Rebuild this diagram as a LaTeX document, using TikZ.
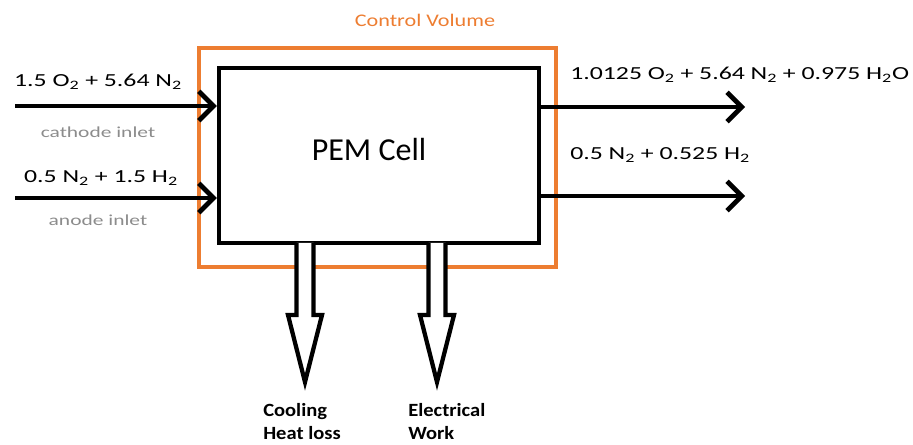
\documentclass[tikz,border=0pt]{standalone}
\usepackage{fontspec}
\setmainfont{Carlito}
\newfontfamily\chemfont[FakeStretch=1.4]{Carlito}
\newfontfamily\cvfont[FakeStretch=1.25]{Carlito}
\newfontfamily\botfont[FakeStretch=1.1]{Carlito}
\usetikzlibrary{arrows.meta}
\definecolor{cvorange}{RGB}{237,125,49}
\definecolor{labgray}{RGB}{140,140,140}
\newcommand{\sbs}[1]{\textsubscript{#1}}
\tikzset{
  flow/.style={line width=3.5pt,-{Straight Barb[length=11pt,width=22pt,line width=3.5pt]}},
  chem/.style={font=\chemfont\fontsize{13.8}{17}\selectfont,inner sep=0pt},
  sub/.style={font=\chemfont\fontsize{11.5}{13}\selectfont,text=labgray,inner sep=0pt},
  bottomlab/.style={font=\botfont\fontsize{14}{18}\selectfont\bfseries,inner sep=0pt,align=left,anchor=north west},
  hollow/.style={line width=3.2pt,line join=miter,fill=white},
}
\begin{document}
\begin{tikzpicture}[x=0.75pt,y=-0.75pt]
\useasboundingbox (0,0) rectangle (913,445);
% control volume
\node[draw=cvorange,line width=3.5pt,minimum width=357*0.75pt,minimum height=219*0.75pt,inner sep=0pt] (cv) at (377.5,157.5) {};
\node[text=cvorange,font=\cvfont\fontsize{13.3}{15}\selectfont,inner sep=0pt] (cvlab) at (425,20) {Control Volume};
% PEM cell
\node[draw=black,line width=3.3pt,minimum width=320*0.75pt,minimum height=175*0.75pt,inner sep=0pt] (pem) at (379,155.5) {};
\node[font=\fontsize{24}{28}\selectfont,inner sep=0pt] (pemlab) at (369,150) {PEM Cell};
% inlets
\coordinate (cin) at (15,106);
\coordinate (ain) at (15,198);
\draw[flow] (cin) -- (cin -| pem.west);
\draw[flow] (ain) -- (ain -| pem.west);
\node[chem] (cinlab) at (98,82) {1.5 O\sbs{2} + 5.64 N\sbs{2}};
\node[sub] (csub) at (98,132) {cathode inlet};
\node[chem] (ainlab) at (101,178) {0.5 N\sbs{2} + 1.5 H\sbs{2}};
\node[sub] (asub) at (98,220) {anode inlet};
% outlets
\coordinate (cout) at (745,107);
\coordinate (aout) at (745,196);
\draw[flow] (cout -| pem.east) -- (cout);
\draw[flow] (aout -| pem.east) -- (aout);
\node[chem,anchor=west] (coutlab) at (570,75) {1.0125 O\sbs{2} + 5.64 N\sbs{2} + 0.975 H\sbs{2}O};
\node[chem,anchor=west] (aoutlab) at (570,155) {0.5 N\sbs{2} + 0.525 H\sbs{2}};
% hollow arrows
\foreach \cx/\nm in {305/heat,437/work}{
  \draw[hollow] (\cx-8.5,243) -- (\cx-8.5,315) -- (\cx-17,315) -- (\cx,382) -- (\cx+17,315) -- (\cx+8.5,315) -- (\cx+8.5,243);
}
\node[bottomlab] (heatlab) at (263,403) {Cooling\\[-1pt]Heat loss};
\node[bottomlab] (worklab) at (408,403) {Electrical\\[-1pt]Work};
\end{tikzpicture}
\end{document}
